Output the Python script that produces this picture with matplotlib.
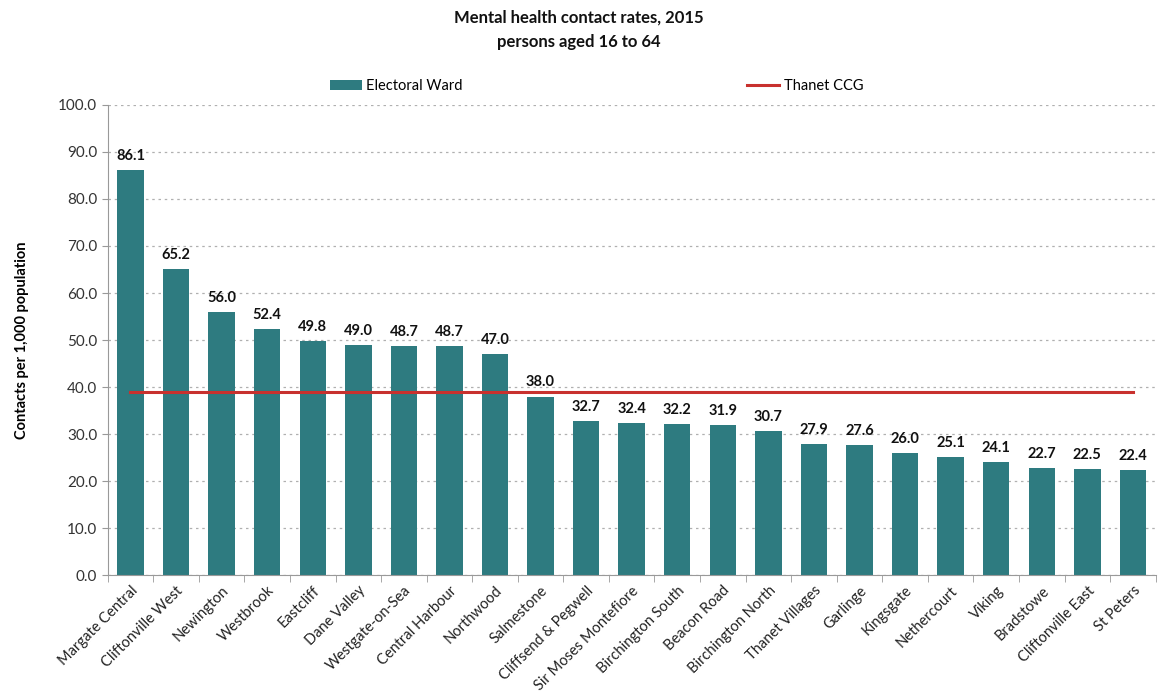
import matplotlib

matplotlib.use("Agg")
import matplotlib.pyplot as plt
from matplotlib.ticker import FormatStrFormatter, FixedLocator

wards = [
    "Margate Central", "Cliftonville West", "Newington", "Westbrook", "Eastcliff",
    "Dane Valley", "Westgate-on-Sea", "Central Harbour", "Northwood", "Salmestone",
    "Cliffsend & Pegwell", "Sir Moses Montefiore", "Birchington South", "Beacon Road",
    "Birchington North", "Thanet Villages", "Garlinge", "Kingsgate", "Nethercourt",
    "Viking", "Bradstowe", "Cliftonville East", "St Peters",
]
rates = [
    86.1, 65.2, 56.0, 52.4, 49.8, 49.0, 48.7, 48.7, 47.0, 38.0,
    32.7, 32.4, 32.2, 31.9, 30.7, 27.9, 27.6, 26.0, 25.1, 24.1,
    22.7, 22.5, 22.4,
]
ccg_rate = 38.9

plt.rcParams["font.family"] = ["Lato", "DejaVu Sans"]

bar_color = "#2E7B80"
line_color = "#C8312E"

fig = plt.figure(figsize=(11.58, 6.99), dpi=100)
ax = fig.add_axes([0.093, 0.177, 0.905, 0.673])

x = list(range(len(wards)))
bars = ax.bar(x, rates, width=0.58, color=bar_color, label="Electoral Ward", zorder=2)
(line,) = ax.plot(x, [ccg_rate] * len(x), color=line_color, linewidth=2.2, label="Thanet CCG", zorder=3)

for xi, val in zip(x, rates):
    ax.text(xi, val + 1.5, f"{val:.1f}", ha="center", va="bottom",
            fontsize=10.5, fontweight="bold", color="#111111")

ax.set_xlim(-0.5, len(wards) - 0.5)
ax.set_ylim(0, 100)
ax.set_yticks(range(0, 101, 10))
ax.yaxis.set_major_formatter(FormatStrFormatter("%.1f"))
ax.tick_params(axis="y", labelsize=11, colors="#333333", length=4, color="#999999")
ax.yaxis.grid(True, linestyle=(0, (2, 3)), color="#b0b0b0", linewidth=0.9, zorder=0)
ax.set_axisbelow(True)

ax.set_xticks(x)
ax.set_xticklabels(wards, rotation=45, ha="right", rotation_mode="anchor", fontsize=10.5, color="#222222")
ax.tick_params(axis="x", length=0, pad=6)
ax.xaxis.set_minor_locator(FixedLocator([i - 0.5 for i in range(len(wards) + 1)]))
ax.tick_params(axis="x", which="minor", length=5, color="#999999")

for side in ["top", "right"]:
    ax.spines[side].set_visible(False)
for side in ["left", "bottom"]:
    ax.spines[side].set_color("#999999")

ax.set_ylabel("Contacts per 1,000 population", fontsize=10.5, fontweight="bold", labelpad=21)

fig.text(0.5, 0.975, "Mental health contact rates, 2015", ha="center", va="center",
         fontsize=12, fontweight="bold", color="#111111")
fig.text(0.5, 0.94, "persons aged 16 to 64", ha="center", va="center",
         fontsize=12, fontweight="bold", color="#111111")

fig.legend(handles=[bars, line], labels=["Electoral Ward", "Thanet CCG"],
           loc="center", bbox_to_anchor=(0.515, 0.877), ncol=2, frameon=False,
           fontsize=10.5, columnspacing=19.5, handlelength=2.2, handletextpad=0.3)

fig.savefig("out.png", dpi=100)
